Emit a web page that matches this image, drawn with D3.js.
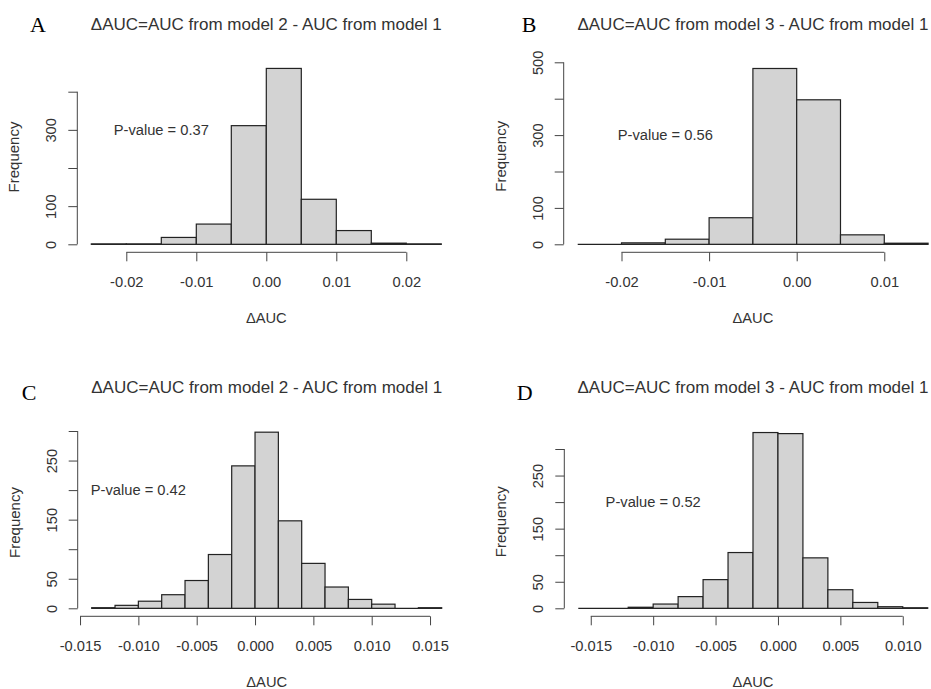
<!DOCTYPE html>
<html>
<head>
<meta charset="utf-8">
<script src="https://cdn.jsdelivr.net/npm/d3@7"></script>
<style>
  body { margin: 0; background: #fff; }
  text { font-family: "Liberation Sans", Arial, sans-serif; fill: #333; }
  .letter { font-family: "Liberation Serif", "Times New Roman", serif; fill: #000; }
</style>
</head>
<body>
<script>
// values
var panelLetters = ["A", "B", "C", "D"];
var panelTitles = [
    "\u0394AUC=AUC from model 2 - AUC from model 1",
    "\u0394AUC=AUC from model 3 - AUC from model 1",
    "\u0394AUC=AUC from model 2 - AUC from model 1",
    "\u0394AUC=AUC from model 3 - AUC from model 1"
];
var pValueText = ["P-value = 0.37", "P-value = 0.56", "P-value = 0.42", "P-value = 0.52"];
var pValueX = [-0.015, -0.015, -0.01, -0.01];
var pValueY = [300, 300, 200, 200];

var breaksA = [-0.025, -0.02, -0.015, -0.01, -0.005, 0, 0.005, 0.01, 0.015, 0.02, 0.025];
var countsA = [1, 1, 18, 53, 311, 461, 118, 36, 3, 1];
var xTicksA = [-0.02, -0.01, 0, 0.01, 0.02];
var xTickLabelsA = ["-0.02", "-0.01", "0.00", "0.01", "0.02"];
var yTicksA = [0, 100, 200, 300, 400];
var yTickLabelsA = ["0", "100", "", "300", ""];

var breaksB = [-0.025, -0.02, -0.015, -0.01, -0.005, 0, 0.005, 0.01, 0.015];
var countsB = [0, 4, 14, 73, 483, 397, 26, 3];
var xTicksB = [-0.02, -0.01, 0, 0.01];
var xTickLabelsB = ["-0.02", "-0.01", "0.00", "0.01"];
var yTicksB = [0, 100, 200, 300, 400, 500];
var yTickLabelsB = ["0", "100", "", "300", "", "500"];

var breaksC = [-0.014, -0.012, -0.01, -0.008, -0.006, -0.004, -0.002, 0, 0.002, 0.004, 0.006, 0.008, 0.01, 0.012, 0.014, 0.016];
var countsC = [1, 5, 12, 23, 47, 91, 241, 298, 148, 76, 36, 15, 7, 0, 1];
var xTicksC = [-0.015, -0.01, -0.005, 0, 0.005, 0.01, 0.015];
var xTickLabelsC = ["-0.015", "-0.010", "-0.005", "0.000", "0.005", "0.010", "0.015"];
var yTicksC = [0, 50, 100, 150, 200, 250, 300];
var yTickLabelsC = ["0", "50", "", "150", "", "250", ""];

var breaksD = [-0.016, -0.014, -0.012, -0.01, -0.008, -0.006, -0.004, -0.002, 0, 0.002, 0.004, 0.006, 0.008, 0.01, 0.012];
var countsD = [0, 0, 2, 8, 22, 54, 105, 331, 329, 95, 35, 11, 3, 1];
var xTicksD = [-0.015, -0.01, -0.005, 0, 0.005, 0.01];
var xTickLabelsD = ["-0.015", "-0.010", "-0.005", "0.000", "0.005", "0.010"];
var yTicksD = [0, 50, 100, 150, 200, 250, 300];
var yTickLabelsD = ["0", "50", "", "150", "", "250", ""];

var panels = [
    { breaks: breaksA, counts: countsA, xTicks: xTicksA, xLabels: xTickLabelsA, yTicks: yTicksA, yLabels: yTickLabelsA },
    { breaks: breaksB, counts: countsB, xTicks: xTicksB, xLabels: xTickLabelsB, yTicks: yTicksB, yLabels: yTickLabelsB },
    { breaks: breaksC, counts: countsC, xTicks: xTicksC, xLabels: xTickLabelsC, yTicks: yTicksC, yLabels: yTickLabelsC },
    { breaks: breaksD, counts: countsD, xTicks: xTicksD, xLabels: xTickLabelsD, yTicks: yTicksD, yLabels: yTickLabelsD }
];

// where each panel sits on the page
var layout = [
    { xRange: [77.3, 455.3], yRange: [244.3, 91.7], titleY: 30, letter: [30, 31.7], freqY: 157 },
    { xRange: [563.7, 942.1], yRange: [244.3, 62.3], titleY: 30, letter: [521.7, 31.7], freqY: 156.3 },
    { xRange: [77.7, 455.7], yRange: [608.3, 431], titleY: 393.3, letter: [21.7, 400], freqY: 522.5 },
    { xRange: [564.3, 941.7], yRange: [608.3, 449], titleY: 393.3, letter: [516.7, 400], freqY: 521.7 }
];

var width = 931, height = 689;

var svg = d3.select("body")
    .append("svg")
    .attr("width", width)
    .attr("height", height);

svg.append("rect")
    .attr("width", width)
    .attr("height", height)
    .attr("fill", "#fff");

panels.forEach(function(p, i) {
    var L = layout[i];
    var lo = p.breaks[0], hi = p.breaks[p.breaks.length - 1];
    var pad = 0.04 * (hi - lo);

    var x = d3.scaleLinear().domain([lo - pad, hi + pad]).range(L.xRange);
    var y = d3.scaleLinear().domain([0, p.yTicks[p.yTicks.length - 1]]).range(L.yRange);

    var g = svg.append("g");
    var midX = (L.xRange[0] + L.xRange[1]) / 2;

    // baseline under the bars (shows where counts are zero)
    g.append("line")
        .attr("x1", x(lo)).attr("x2", x(hi))
        .attr("y1", y(0)).attr("y2", y(0))
        .attr("stroke", "#222")
        .attr("stroke-width", 1.3);

    var bins = p.counts.map(function(c, k) { return { x0: p.breaks[k], x1: p.breaks[k + 1], n: c }; });

    g.selectAll("rect.bar")
        .data(bins.filter(function(d) { return d.n > 0; }))
        .enter()
        .append("rect")
        .attr("class", "bar")
        .attr("x", function(d) { return x(d.x0); })
        .attr("width", function(d) { return x(d.x1) - x(d.x0); })
        .attr("y", function(d) { return y(d.n); })
        .attr("height", function(d) { return y(0) - y(d.n); })
        .attr("fill", "#d3d3d3")
        .attr("stroke", "#222")
        .attr("stroke-width", 1.2);

    // x axis, line only between the outer ticks like R does
    var axisY = y(0) + 8;
    var xAxis = g.append("g")
        .attr("transform", "translate(0," + axisY + ")")
        .call(d3.axisBottom(x)
            .tickValues(p.xTicks)
            .tickSize(9)
            .tickPadding(15.5)
            .tickFormat(function(d, k) { return p.xLabels[k]; }));
    xAxis.select(".domain").remove();
    xAxis.append("line")
        .attr("x1", x(p.xTicks[0]))
        .attr("x2", x(p.xTicks[p.xTicks.length - 1]))
        .attr("stroke", "#444");
    xAxis.selectAll("line").attr("stroke", "#444");
    xAxis.selectAll("text")
        .attr("fill", "#333")
        .style("font-size", "14.7px")
        .style("font-family", "'Liberation Sans', Arial, sans-serif");

    // y axis with rotated labels
    var axisX = L.xRange[0];
    var yAxis = g.append("g")
        .attr("transform", "translate(" + axisX + ",0)")
        .call(d3.axisLeft(y)
            .tickValues(p.yTicks)
            .tickSize(9)
            .tickFormat(function(d, k) { return p.yLabels[k]; }));
    yAxis.select(".domain").remove();
    yAxis.append("line")
        .attr("y1", y(p.yTicks[0]))
        .attr("y2", y(p.yTicks[p.yTicks.length - 1]))
        .attr("stroke", "#444");
    yAxis.selectAll("line").attr("stroke", "#444");
    yAxis.selectAll("text")
        .attr("transform", "rotate(-90)")
        .attr("x", 0)
        .attr("y", -21)
        .attr("dy", null)
        .attr("text-anchor", "middle")
        .attr("fill", "#333")
        .style("font-size", "14.7px")
        .style("font-family", "'Liberation Sans', Arial, sans-serif");

    g.append("text")
        .attr("transform", "translate(" + (axisX - 58) + "," + L.freqY + ") rotate(-90)")
        .attr("text-anchor", "middle")
        .style("font-size", "15px")
        .text("Frequency");

    g.append("text")
        .attr("x", midX)
        .attr("y", axisY + 71)
        .attr("text-anchor", "middle")
        .style("font-size", "14.7px")
        .text("\u0394AUC");

    g.append("text")
        .attr("x", midX)
        .attr("y", L.titleY)
        .attr("text-anchor", "middle")
        .style("font-size", "17px")
        .text(panelTitles[i]);

    g.append("text")
        .attr("class", "letter")
        .attr("x", L.letter[0])
        .attr("y", L.letter[1])
        .style("font-size", "22px")
        .text(panelLetters[i]);

    g.append("text")
        .attr("x", x(pValueX[i]))
        .attr("y", y(pValueY[i]))
        .attr("dy", "0.35em")
        .attr("text-anchor", "middle")
        .style("font-size", "14.7px")
        .text(pValueText[i]);
});
</script>
</body>
</html>
